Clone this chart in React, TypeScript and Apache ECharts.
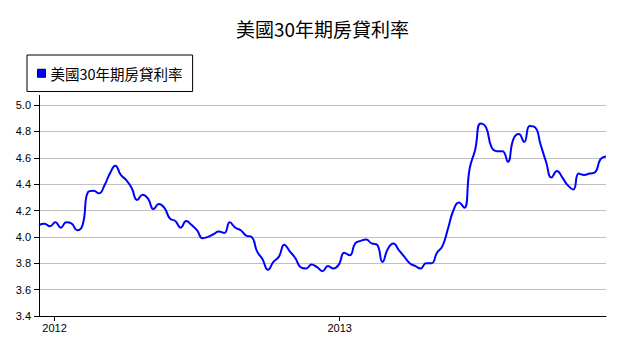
import React, { useEffect, useRef } from "react";
import * as echarts from "echarts";

const seriesName = "美國30年期房貸利率";
const titleText = "美國30年期房貸利率";
const firstWeek = "2011-12-12";
const rates = [
  4.09, 4.10, 4.08, 4.11, 4.07, 4.11, 4.10, 4.05, 4.09, 4.34,
  4.35, 4.33, 4.39, 4.48, 4.54, 4.47, 4.43, 4.37, 4.28, 4.32,
  4.29, 4.21, 4.25, 4.22, 4.14, 4.12, 4.07, 4.12, 4.09, 4.05,
  3.99, 4.00, 4.02, 4.04, 4.03, 4.11, 4.07, 4.05, 4.01, 4.00,
  3.89, 3.83, 3.75, 3.81, 3.85, 3.94, 3.89, 3.84, 3.77, 3.76,
  3.79, 3.77, 3.74, 3.78, 3.76, 3.79, 3.88, 3.86, 3.95, 3.97,
  3.98, 3.95, 3.94, 3.81, 3.91, 3.95, 3.90, 3.85, 3.80, 3.78,
  3.76, 3.80, 3.80, 3.88, 3.93, 4.06, 4.20, 4.26, 4.22, 4.52,
  4.66, 4.86, 4.83, 4.68, 4.65, 4.65, 4.57, 4.74, 4.78, 4.72,
  4.84, 4.83, 4.70, 4.57, 4.45, 4.50, 4.45, 4.39, 4.36, 4.48,
  4.47, 4.48, 4.49, 4.59, 4.61,
];
const yearTicks = ["2012-01-01", "2013-01-01"];
const yMin = 3.4;
const yMax = 5.0;
const yStep = 0.2;

function parseLocal(s: string): number {
  const [y, m, d] = s.split("-").map(Number);
  return new Date(y, m - 1, d).getTime();
}

export default function App() {
  const ref = useRef<HTMLDivElement>(null);
  useEffect(() => {
    if (!ref.current) return;
    const chart = echarts.init(ref.current, null, { renderer: "svg" });
    const start = parseLocal(firstWeek);
    const dates = rates.map((_, i) => {
      const d = new Date(start);
      d.setDate(d.getDate() + 7 * i);
      return d.getTime();
    });
    const data = rates.map((v, i) => [dates[i], v]);
    const tickVals = yearTicks.map(parseLocal);
    chart.setOption({
      animation: false,
      backgroundColor: "#ffffff",
      title: {
        text: titleText,
        left: 231,
        top: 14,
        textStyle: {
          fontFamily: "Noto Sans CJK TC",
          fontSize: 19,
          fontWeight: "normal",
          color: "#000",
        },
      },
      legend: {
        left: 27,
        top: 55,
        orient: "horizontal",
        padding: [11, 10, 11, 10],
        borderColor: "#000",
        borderWidth: 1,
        borderRadius: 0,
        itemWidth: 8,
        itemHeight: 8,
        icon: "rect",
        textStyle: {
          fontFamily: "Noto Sans CJK TC",
          fontSize: 14.5,
          color: "#000",
        },
        data: [
          {
            name: seriesName,
            itemStyle: { color: "#0000ff", borderColor: "#000033", borderWidth: 1 },
          },
        ],
      },
      grid: { left: 39, right: 12, top: 105, bottom: 38, containLabel: false },
      xAxis: {
        type: "value",
        min: dates[0],
        max: dates[dates.length - 1],
        axisLine: { show: true, onZero: false, lineStyle: { color: "#000", width: 1 } },
        axisTick: {
          show: true,
          length: 5,
          lineStyle: { color: "#000" },
          customValues: tickVals,
        },
        axisLabel: {
          customValues: tickVals,
          margin: 6,
          fontFamily: "Liberation Sans",
          fontSize: 11,
          color: "#000",
          formatter: (v: number) => String(new Date(v).getFullYear()),
        },
        splitLine: { show: false },
      },
      yAxis: {
        type: "value",
        min: yMin,
        max: yMax,
        interval: yStep,
        axisLine: { show: true, lineStyle: { color: "#000", width: 1 } },
        axisTick: { show: true, length: 5, lineStyle: { color: "#000" } },
        axisLabel: {
          margin: 8,
          fontFamily: "Liberation Sans",
          fontSize: 11,
          color: "#000",
          formatter: (v: number) => v.toFixed(1),
        },
        splitLine: { show: true, lineStyle: { color: "#c0c0c0", width: 1 } },
      },
      graphic: [
        {
          type: "line",
          shape: { x1: 39.5, y1: 95, x2: 39.5, y2: 105 },
          style: { stroke: "#000", lineWidth: 1 },
        },
      ],
      series: [
        {
          name: seriesName,
          type: "line",
          data,
          smooth: true,
          showSymbol: false,
          symbol: "none",
          lineStyle: { color: "#0000ff", width: 2 },
          itemStyle: { color: "#0000ff" },
        },
      ],
    });
    return () => chart.dispose();
  }, []);
  return (
    <div
      ref={ref}
      style={{ position: "fixed", left: 0, top: 0, width: 618, height: 354, background: "#fff" }}
    />
  );
}
